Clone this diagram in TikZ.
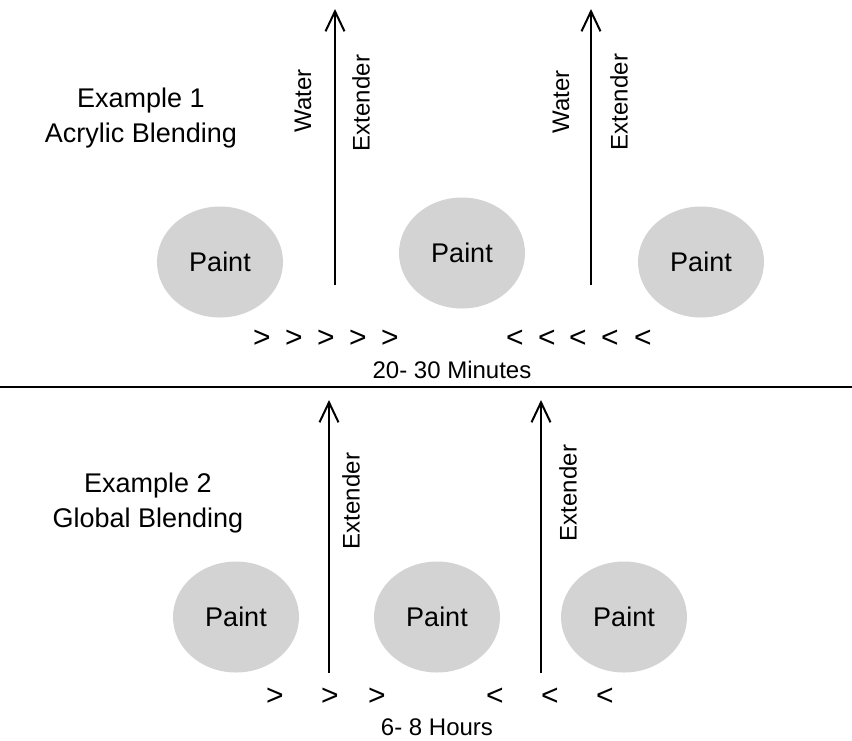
\documentclass[tikz,border=0pt]{standalone}
\usepackage{fontspec}
\setmainfont{Liberation Sans}
\usepackage{xcolor}
\usepackage{tikz}
\usetikzlibrary{arrows.meta,shapes.geometric}

\definecolor{paintgray}{RGB}{211,211,211}

\tikzset{
    paint/.style={ellipse, fill=paintgray, minimum width=126pt, minimum height=111pt, inner sep=0pt, font=\fontsize{27}{32}\selectfont},
    flow/.style={line width=2.5pt, -{Straight Barb[length=20pt,width=19pt,line width=2pt]}},
    additive/.style={rotate=90, inner sep=0pt, font=\fontsize{24}{28}\selectfont},
    title/.style={align=center, inner sep=0pt, font=\fontsize{27}{35}\selectfont},
    timing/.style={inner sep=0pt, font=\fontsize{24}{28}\selectfont},
    chevron/.style={inner sep=0pt, font=\fontsize{30}{34}\selectfont}
}

\begin{document}
\begin{tikzpicture}[x=1pt, y=-1pt]
        \useasboundingbox (0,0) rectangle (852,740);
        % Example 1
        \node[title] (exone) at (141,118.5) {Example 1\\Acrylic Blending};
        \node[paint] (painta) at (220,262) {Paint};
        \node[paint] (paintb) at (462,253) {Paint};
        \node[paint] (paintc) at (701,262) {Paint};
        \coordinate (basea) at (335,285);
        \coordinate (tipa) at (335,9);
        \coordinate (baseb) at (591,285);
        \coordinate (tipb) at (591,9);
        \draw[flow] (basea) -- (tipa);
        \draw[flow] (baseb) -- (tipb);
        \node[additive] (watera) at (303,101) {Water};
        \node[additive] (extendera) at (361,103) {Extender};
        \node[additive] (waterb) at (561,102) {Water};
        \node[additive] (extenderb) at (619,102) {Extender};
        % chevrons
        \foreach \x [count=\i] in {262,294,326,358,390}
            \node[chevron] (righta\i) at (\x,339) {>};
        \foreach \x [count=\i] in {515,547,578,610,643}
            \node[chevron] (lefta\i) at (\x,339) {<};
        \node[timing] (minutes) at (452,370) {20- 30 Minutes};
        % divider
        \coordinate (divw) at (0,387);
        \coordinate (dive) at (852,387);
        \draw[line width=2.5pt] (divw) -- (dive);
        % Example 2
        \node[title] (extwo) at (148,503.5) {Example 2\\Global Blending};
        \node[paint] (paintd) at (236,617) {Paint};
        \node[paint] (painte) at (437,617) {Paint};
        \node[paint] (paintf) at (624,617) {Paint};
        \coordinate (based) at (329,673);
        \coordinate (tipd) at (329,400);
        \coordinate (basee) at (541,673);
        \coordinate (tipe) at (541,400);
        \draw[flow] (based) -- (tipd);
        \draw[flow] (basee) -- (tipe);
        \node[additive] (extenderd) at (351,501) {Extender};
        \node[additive] (extendere) at (568,493) {Extender};
        \foreach \x [count=\i] in {275,330,377}
            \node[chevron] (rightb\i) at (\x,697) {>};
        \foreach \x [count=\i] in {495,550,605}
            \node[chevron] (leftb\i) at (\x,697) {<};
        \node[timing] (hours) at (437,727) {6- 8 Hours};
    \end{tikzpicture}
\end{document}
